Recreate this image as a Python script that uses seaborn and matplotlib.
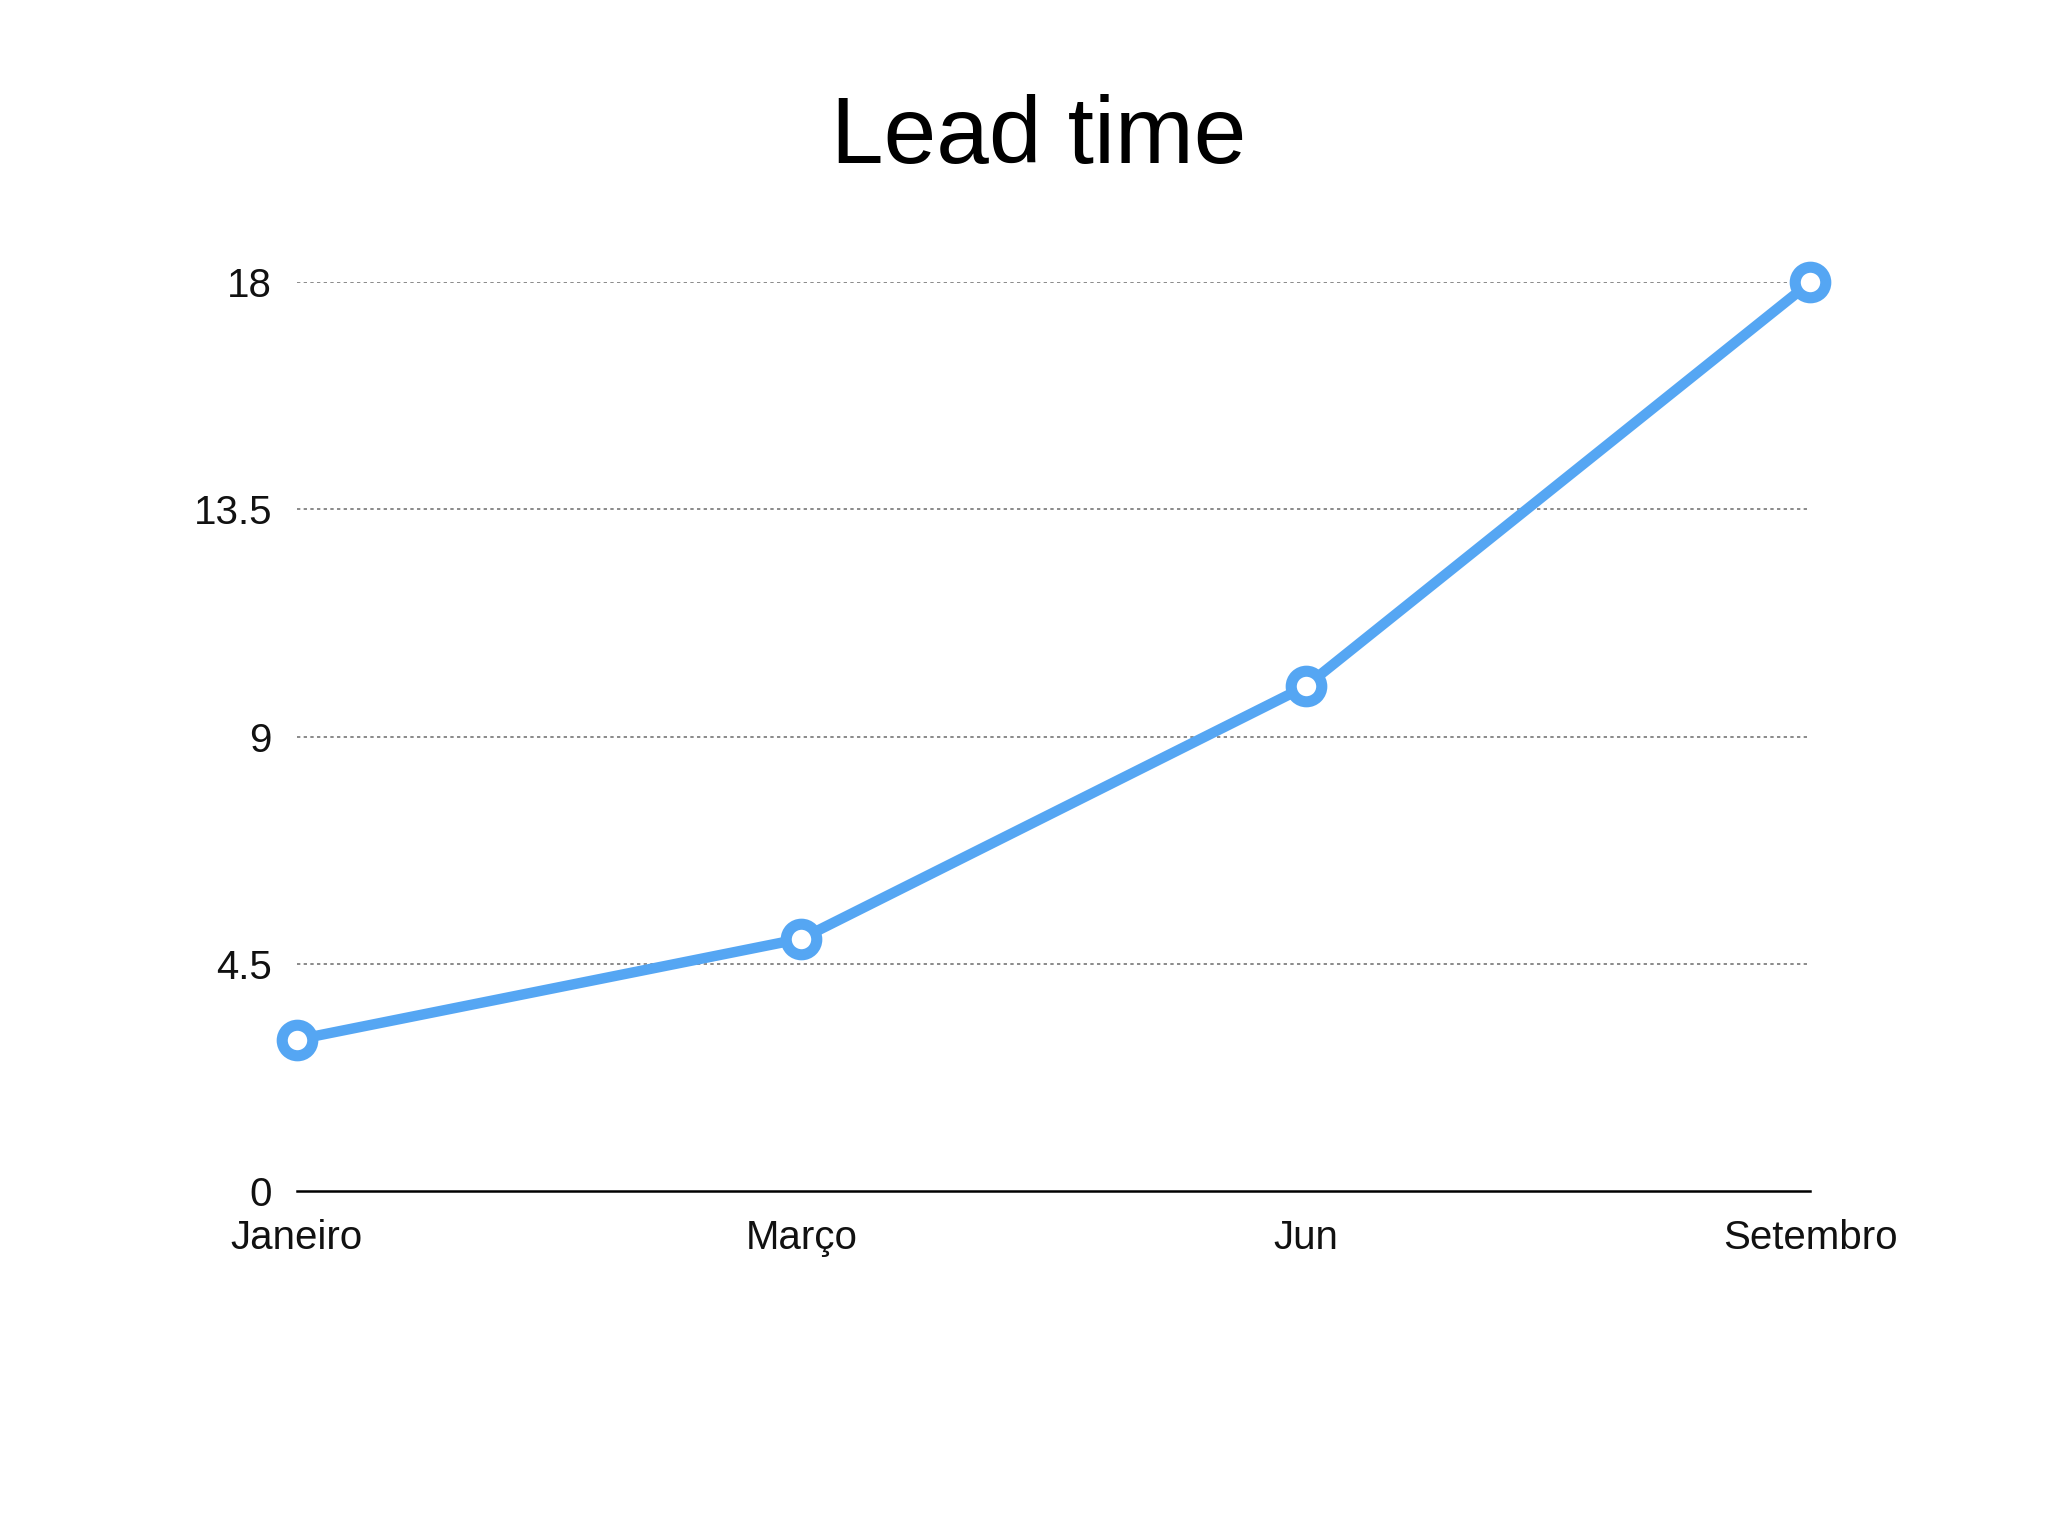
import matplotlib
matplotlib.use('Agg')
import pandas as pd
import seaborn as sns
import matplotlib.pyplot as plt

sns.set_style("white")
plt.rcParams['font.family'] = ['Liberation Sans', 'DejaVu Sans']

# data
months = ['Janeiro', 'Março', 'Jun', 'Setembro']
lead_time = [3.0, 5.0, 10.0, 18.0]
y_ticks = [0, 4.5, 9, 13.5, 18]
y_labels = ['0', '4.5', '9', '13.5', '18']

df = pd.DataFrame({'month': months, 'lead_time': lead_time, 'pos': range(len(months))})

fig = plt.figure(figsize=(20.48, 15.36), dpi=100)
ax = fig.add_axes([0.145, 0.2245, 0.739, 0.5918])

sns.lineplot(data=df, x='pos', y='lead_time', ax=ax, color='#55a6f3', linewidth=7.5,
             marker='o', markersize=22, markerfacecolor='white',
             markeredgecolor='#55a6f3', markeredgewidth=8, clip_on=False, zorder=5)

ax.set_xlim(0, len(months) - 1)
ax.set_ylim(0, 18)
ax.set_xticks(range(len(months)))
ax.set_xticklabels(months)
ax.set_yticks(y_ticks)
ax.set_yticklabels(y_labels)
ax.tick_params(axis='both', length=0, labelsize=29, colors='#111111')
ax.tick_params(axis='x', pad=20)
ax.tick_params(axis='y', pad=18)
ax.set_xlabel('')
ax.set_ylabel('')

for t in y_ticks[1:]:
    ax.axhline(t, color='#777777', linestyle=(0, (2, 2)), linewidth=1.2, zorder=1)

for s in ['top', 'right', 'left']:
    ax.spines[s].set_visible(False)
ax.spines['bottom'].set_color('black')
ax.spines['bottom'].set_linewidth(1.8)

fig.text(0.507, 0.91, 'Lead time', ha='center', va='center', fontsize=68, color='black')

plt.savefig('out.png', dpi=100, facecolor='white')
